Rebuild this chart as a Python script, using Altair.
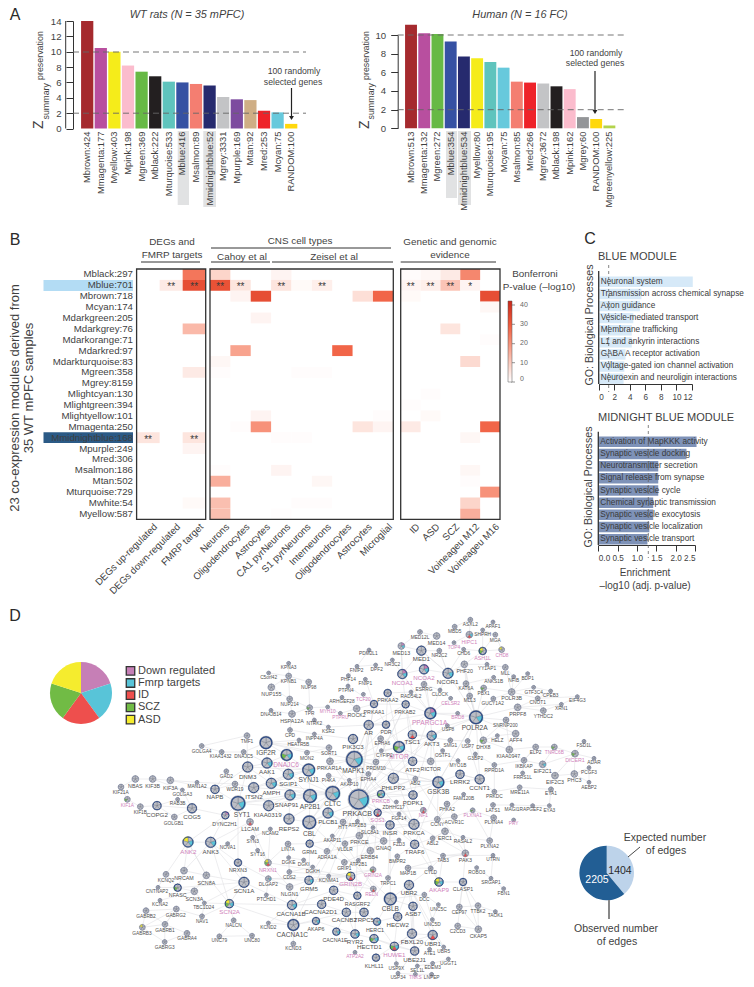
import math
import altair as alt

W, H = 738, 971
FONT = "Liberation Sans"
INK = "#3f3f3f"

# ---------- panel A ----------
RAT_LABELS = ["Mbrown:424","Mmagenta:177","Myellow:403","Mpink:198","Mgreen:369","Mblack:222","Mturquoise:533","Mblue:416","Msalmon:89","Mmidnightblue:52","Mgrey:3331","Mpurple:169","Mtan:92","Mred:253","Mcyan:75","RANDOM:100"]
RAT_VALUES = [14,10.5,10,8.2,7.4,6.8,6.1,6.0,5.8,5.6,4.1,3.8,3.7,2.3,2.1,0.6]
RAT_COLORS = ["#a52a2e","#b84f9f","#f5ec1a","#fbbccd","#67b945","#231f20","#5fc4bd","#3651a3","#f47e71","#262a6e","#c3c4c6","#7d4b9f","#cfae85","#ee2329","#67c9dc","#ffd80c"]
HUM_LABELS = ["Mbrown:513","Mmagenta:132","Mgreen:272","Mblue:354","Mmidnightblue:534","Myellow:80","Mturquoise:195","Mcyan:75","Msalmon:85","Mred:266","Mgrey:3672","Mblack:198","Mpink:162","Mgrey:60","RANDOM:100","Mgreenyellow:225"]
HUM_VALUES = [11.1,10.2,10.1,9.3,7.7,7.5,7.1,6.5,5.0,4.9,4.8,4.5,4.2,1.2,1.0,0.3]
HUM_COLORS = ["#a52a2e","#b84f9f","#67b945","#3651a3","#262a6e","#f5ec1a","#5fc4bd","#67c9dc","#f47e71","#ee2329","#c3c4c6","#231f20","#fbbccd","#939598","#ffd80c","#b3d34c"]

# ---------- panel B ----------
ROWS = ["Mblack:297","Mblue:701","Mbrown:718","Mcyan:174","Mdarkgreen:205","Mdarkgrey:76","Mdarkorange:71","Mdarkred:97","Mdarkturquoise:83","Mgreen:358","Mgrey:8159","Mlightcyan:130","Mlightgreen:394","Mlightyellow:101","Mmagenta:250","Mmidnightblue:168","Mpurple:249","Mred:306","Msalmon:186","Mtan:502","Mturquoise:729","Mwhite:54","Myellow:587"]
COLS1 = ["DEGs up-regulated","DEGs down-regulated","FMRP target"]
COLS2 = ["Neurons","Oligodendrocytes","Astrocytes","CA1 pyrNeurons","S1 pyrNeurons","Interneurons","Oligodendrocytes ","Astrocytes ","Microglial"]
COLS3 = ["ID","ASD","SCZ","Voineageu M12","Voineageu M16"]
# (row index, column index, -log10 P, stars)
CELLS1 = [(0,2,25,""),(1,1,4,"**"),(1,2,33,"**"),(5,2,13,""),(9,2,4,""),(15,0,5,"**"),(15,2,5,"**"),(16,2,2,""),(21,2,1,"")]
CELLS2 = [(0,0,8,""),(0,3,2,""),(1,0,32,"**"),(1,1,5,"**"),(1,3,5,"**"),(1,4,1,""),(1,5,3,"**"),(2,1,2,""),(2,2,33,""),(2,7,6,""),(2,8,28,""),(4,2,2,""),(7,1,17,""),(7,6,28,""),(8,0,1.5,""),(9,0,0.5,""),(9,4,0.5,""),(9,5,0.5,""),(13,2,2,""),(13,8,0.5,""),(14,1,0.5,""),(14,2,20,""),(14,7,5,""),(14,8,2,""),(15,3,0.5,""),(15,4,0.5,""),(18,0,0.5,""),(18,3,2,""),(19,0,15,""),(19,5,1.5,""),(21,0,12,""),(21,4,0.5,""),(21,5,0.5,""),(22,0,12,""),(22,3,0.3,"")]
CELLS3 = [(0,0,0.5,""),(0,1,1.5,""),(0,2,4,""),(0,3,22,""),(1,0,2,"**"),(1,1,3,"**"),(1,2,11,"**"),(1,3,2,"*"),(2,0,1,""),(2,4,33,""),(3,4,1.5,""),(5,2,5,""),(6,4,0.5,""),(8,3,7,""),(11,1,0.5,""),(12,0,0.5,""),(13,1,1,""),(14,0,4,""),(14,4,28,""),(15,3,1.5,""),(18,3,1.5,""),(19,3,0.5,""),(20,4,20,""),(21,3,8,""),(22,3,15,"")]
HEAT_STOPS = [0,10,20,30,42]
HEAT_TICKS = [0,10,20,30,40]
HEAT_COLORS = ["#ffffff","#fbcabd","#f7927a","#ef5a3c","#c9281a"]

# ---------- panel C ----------
BLUE_TERMS = ["Neuronal system","Transmission across chemical synapse","Axon guidance","Vesicle-mediated transport","Membrane trafficking","L1 and ankyrin interactions","GABA A receptor activation","Voltage-gated ion channel activation","Neuroexin and neuroligin interactions"]
BLUE_VALUES = [12.1,5.5,5.3,4.45,4.25,4.25,3.45,3.3,3.2]
MID_TERMS = ["Activation of MapKKK activity","Synaptic vesicle docking","Neurotransmitter secretion","Signal release from synapse","Synaptic vesicle cycle","Chemical synaptic transmission","Synaptic vesicle exocytosis","Synaptic vesicle localization","Synaptic vesicle transport"]
MID_VALUES = [2.54,2.28,1.55,1.55,1.55,1.42,1.42,1.32,1.27]

# ---------- panel D ----------
LIST_NAMES = ["Down regulated","Fmrp targets","ID","SCZ","ASD"]
LIST_COLORS = ["#c67fb6","#58c4d8","#ee4f4d","#71bb45","#f5ec2e"]
LIST_SHARE = [1,1,1,1,1]
EDGE_NAMES = ["Expected number of edges","Observed number of edges"]
EDGE_COUNTS = [1404,2205]
EDGE_COLORS = ["#bdd3ea","#225e94"]

# genes: name, x, y, radius, lists (P F R G Y; * = pink label), label x, label y
# in four quadrants (units are thirds of a pixel)
GENES_NW = [
("KPNA3",866,190,2,"",866,203),("C5orf42",806,219,2,"",806,233),("KPNB1",866,228,3,"",866,246),("NUP98",926,246,3,"",926,264),
("PDM2L1",1107,150,2,"",1105,163),("FNIP2",1071,199,2,"",1070,213),("DPF2",1127,195,2,"",1130,209),("PHF14",1045,227,2,"",1045,241),("FNIP1",1096,238,2,"",1096,252),
("PTPN4",1044,258,2,"",1038,273),("TCF20",1090,283,2,"*",1090,299),("NUP155",814,262,3.5,"",814,282),("NUP214",869,297,3,"",869,316),("TPR",929,323,3,"G",929,342),
("ARHGEF28",1026,292,2,"",1026,306),("MYH10",983,321,2,"*",983,337),("PTPRU",1021,340,2,"*",1021,354),("ROCK2",1070,326,3.5,"",1070,345),("PRKAA1",1122,312,4,"",1122,335),
("DNAJB14",813,331,2,"",813,345),("HSPA12A",876,342,3.5,"",876,362),("NTRK2",943,360,2,"",943,373),("KSR2",985,381,2,"",985,396),("AR",1106,375,5,"",1106,398),
("CPD",870,390,2.5,"",870,408),("TMF1",741,407,3,"",741,425),("INPP4A",943,402,2,"",943,417),("HEATR5B",897,420,2,"",895,434),("GOLGA4",605,438,2.5,"",605,455),
("KIAA1432",665,456,2.5,"",662,472),("DNAJC5",731,456,2.5,"",731,472),("IGF2R",798,428,6.5,"",798,458),("DNAJC6",860,465,6,"FG*",858,494),("MON2",921,458,2.5,"",921,476),
("SORT1",987,443,3,"",987,462),("PIK3C3",1059,417,5,"",1059,441),("MAPK1",1063,478,8.5,"F",1060,513),("AAK1",801,489,5.5,"F",801,516),("DNM3",743,501,5.5,"",743,531),
("GAD2",679,514,2.5,"",679,531),("SGIP1",865,523,5.5,"F",865,551),("SYNJ1",926,510,6.5,"F",926,540),("PRKAR1A",990,484,3.5,"",988,504),("PI4KA",986,527,2.5,"",986,543),
("AKAP10",1048,541,2,"",1048,555),("PRDM10",1128,486,3,"",1128,508),("EPHA4",1105,522,2.5,"",1105,540),("NBAS",406,537,3.5,"",406,558),("KIF3B",458,537,3.5,"",458,558),
("KIF3A",511,541,3.5,"",511,563),("MAN1A2",591,547,2,"",591,561),("GOLGA3",547,570,2,"",547,584),("WDR19",705,552,3,"",705,570),("NAPB",645,568,4.5,"",645,592),
("ITSN2",761,563,5.5,"",762,591),("AMPH",814,550,5.5,"F",814,578),("KIF21A",363,561,3,"",362,580),
]
GENES_SW = [
("KIF1A",382,28,3,"G*",382,47),("KIF1B",421,50,3,"",421,70),("COPG2",471,47,4.5,"",471,74),("RAB3B",533,28,2,"",533,42),("COG5",576,55,5,"",576,81),
("GOLGB1",523,81,3,"",521,101),("SYT1",714,40,7.5,"F",726,75),("DYNC2H1",676,76,4,"P",674,101),("L1CAM",750,96,3.5,"R",750,117),("KIAA0319",806,47,5.5,"",803,76),
("SNAP91",870,15,5.5,"F",860,44),("AP2B1",930,18,7,"F",930,50),("CLTC",998,10,7.5,"F",998,42),("PRKACB",1076,28,10.5,"F",1072,72),("PLCB1",984,69,5.5,"F",984,97),
("CBL",928,97,7,"",928,133),("REPS2",867,87,5.5,"",867,116),("NCAM2",811,117,2,"",811,132),("SYN3",758,142,2,"",758,157),("HTT",1029,96,3,"",1029,113),
("ATP2B3",1072,94,2,"",1072,108),("SLC8A1",1119,113,2,"",1110,128),("AKAP11",997,138,2,"",997,154),("PRKCE",1078,137,3.5,"",1078,156),("LIN7A",864,162,3,"",864,181),
("GRM1",929,161,4,"",929,185),("VLDLR",1035,161,3,"",1035,181),("ERBB4",1111,182,3.5,"",1108,202),("ADRA1A",981,184,3,"",981,203),("SYT16",773,181,2,"",773,196),
("NOVA1",683,161,2,"",683,175),("ANK2",564,156,5.5,"FY*",565,185),("ANK3",632,157,5.5,"F",632,186),("NRXN3",714,218,4,"",714,241),("NRXN1",804,218,3.5,"GYR*",804,241),
("DGKE",866,203,2,"",866,219),("DGKI",911,210,2,"",911,226),("DGKH",938,231,2,"",938,247),("GRIP1",1033,217,3,"",1033,237),("ATP2B1",1075,211,2,"",1075,226),
("GRIN2A",1119,239,3,"RG*",1119,258),("KCNQ2",498,253,3,"",498,272),("NRCAM",552,242,3.5,"",552,264),("SCN8A",619,256,3.5,"",619,278),("CNTNAP2",474,292,2,"",471,307),
("NFASC",533,293,4,"G",533,316),("SCN3A",583,304,3.5,"",583,326),("SCN1A",732,277,5.5,"",732,303),("DLGAP2",805,266,3,"F",805,286),("CDS2",868,246,2.5,"",868,264),
("KCNMA1",986,258,2,"",986,273),("GRIN2B",1052,259,4.5,"RY*",1052,283),("RELN",1120,297,3,"R*",1115,315),("GRM5",927,271,4.5,"F",927,297),("NLGN1",869,291,3.5,"",869,311),
("PDE4D",1001,301,4.5,"",1001,326),("RASGRF2",1072,317,4,"",1072,341),("PTCHD1",799,315,2,"",799,330),("KCNA2",480,331,2,"",480,346),("TBC1D24",613,339,2,"",611,354),
("SCN2A",688,341,4.5,"FGY*",689,366),("GABRB2",438,362,3,"",438,381),("GABRG2",529,357,3,"",527,378),("CACNA1B",876,345,5,"F",873,372),("CACNA2D1",965,343,4.5,"",962,367),
("CACNB2",1039,367,4.5,"",1033,391),("TRPC5",1092,367,4.5,"",1092,391),("NAV1",606,379,2.5,"",606,396),("NALCN",701,391,2.5,"",701,408),("AKAP6",948,393,4,"F",948,416),
("GABRB3",427,412,3,"Y",426,432),("GABRB1",495,403,3,"",495,422),("CACNA1C",880,405,6,"",877,435),("KCND2",805,399,2,"",805,414),("CACNA1E",1009,425,4,"F",1005,449),
("RYR2",1065,432,4.5,"F",1065,456),("GABRA4",561,430,3,"",561,448),("HECTD1",1122,446,4.5,"GF",1108,470),("UNC79",658,439,2.5,"",658,454),("UNC80",756,437,2.5,"",756,453),
("KCND3",880,461,2.5,"",880,477),("GABRG3",494,456,2.5,"",494,474),("ATP2A2",1065,487,2,"*",1065,501),("KLHL11",1128,503,4,"",1122,527),("HERC1",1131,395,4,"F",1125,420),
]
GENES_NE = [
("ASXL2",280,59,2.5,"",280,74),("MBD5",233,80,2.5,"",233,96),("APAF1",348,66,2,"",348,80),("SHPRH",317,90,2,"",317,104),("HIPC1",277,104,3.5,"RF*",277,125),
("MGA",355,104,2.5,"",355,122),("MED12L",129,96,2.5,"",129,114),("MED14",179,108,3.5,"",179,130),("MED13",73,138,3.5,"PF",73,160),("MED1",133,152,5,"",133,178),
("TOP4",231,128,2,"*",231,143),("CHD6",260,148,2,"",260,163),("NR2C2",187,152,2.5,"",187,169),("ASH1L",317,153,4,"GY*",317,175),("CHD8",374,149,3,"Y*",375,168),
("NR3C2",46,180,2,"",46,194),("PHF20",262,193,3.5,"",263,213),("YY1AP1",330,193,2,"",330,208),("MLL",385,202,3,"",385,221),("NCOR1",213,220,5.5,"F",212,246),
("NCOA2",141,208,5,"PF*",141,233),("NCOA1",76,222,5,"PF*",76,248),("NFIB",410,230,2,"",410,244),("BDP1",452,221,2,"",452,237),("ANKS1B",350,232,2,"",350,247),
("KAT6A",267,251,3,"",267,268),("ESRRG",141,253,3,"",141,269),("CLOCK",189,270,2,"",189,286),("PBX1",320,264,3,"G",320,282),("GTF3C4",470,262,2,"",470,278),
("CPEB3",521,273,2,"",521,288),("POLR3B",404,276,3.5,"",404,295),("RAD54L2",102,276,2,"",102,292),("PRKAA2",32,279,4,"",32,300),("MLL3",278,288,3,"",278,304),
("CELSR2",221,295,2,"*",221,311),("GUCY1A2",349,296,2.5,"",347,312),("CNOT1",482,295,2.5,"",482,310),("EIF4G3",601,290,2,"",601,304),("XRN1",553,313,2,"",553,328),
("PRKAB2",86,313,4,"",84,336),("PPARGC1A",160,340,6,"PF*",158,368),("POLR2A",297,352,7,"F",293,385),("PRPF8",422,322,3.5,"",422,341),("YTHDC2",499,332,3,"",499,350),
("BRD8",242,340,2,"*",242,355),("SNRNP200",387,360,3,"",385,378),("USP8",211,377,2,"",213,391),("PDR",27,374,4,"",27,396),("TSC1",106,404,4.5,"R",106,426),
("AKT3",164,407,5,"F",164,433),("AFF4",416,401,3.5,"",416,421),("HELZ",361,407,2,"",361,422),("SMG1",220,421,2.5,"",220,437),("USP7",272,423,2.5,"",272,440),
("DHX8",319,421,3.5,"G",319,440),("FSD1L",621,424,2,"",621,439),("TNRC6B",532,441,3,"G*",532,459),("ELP2",476,441,3,"",476,459),("DICER1",594,461,3.5,"G*",594,481),
("ADAR",651,475,2,"",651,489),("KIAA0947",397,449,3.5,"",394,468),("MTOR",66,441,6,"GF*",66,472),("EPHA6",11,416,3,"",16,433),("CYFIP2",13,452,2,"",22,467),
("OSTF1",197,452,2,"",197,467),("G3BP2",295,462,2,"",295,477),("MYO1B",243,482,2,"",243,497),("RICTOR",161,484,3.5,"",161,506),("ATF2",107,484,4.5,"",107,509),
("IKBKAP",441,481,3,"",441,500),("EIF2C1",497,493,3.5,"F",497,513),("RPRD1A",352,495,2.5,"",352,512),("FRRS1L",437,519,2,"",437,534),("PCGF3",636,503,2,"",636,520),
("PHC3",592,522,3.5,"",592,540),("EIF2C3",534,527,3.5,"",534,546),("ABI2",115,536,2.5,"",115,551),("LRRK2",249,523,4.5,"",249,546),("PHLPP2",49,535,5.5,"",49,563),
("GSK3B",184,547,6,"F",184,577),("CCNT1",308,538,5,"",308,564),("AEBP2",636,547,2,"",636,563),("MRE11A",428,562,2.5,"",428,578),("EYA1",522,568,2.5,"",522,583),
("FAM120B",260,583,2,"",260,597),("PRKDC",352,575,2.5,"",352,592),
]
GENES_SE = [
("PDPK1",108,15,4.5,"",108,39),("PRKCB",12,12,4,"GF*",12,33),("ZDHHC17",58,36,2,"",50,53),("PHKA2",210,42,3,"",210,60),("LATS1",348,45,2.5,"",348,62),
("MAGI1",405,45,2,"",405,61),("RAPGEF2",467,47,2,"",461,61),("EYA3",517,47,2,"",517,62),("NF1",139,61,3,"PR*",139,77),("PLXNA1",287,61,2.5,"G*",287,78),
("SOS1",2,68,4,"PR*",2,90),("FGF14",66,72,2,"",66,87),("ACVR1C",232,80,3,"",232,99),("CCNY",181,88,3,"",181,106),("PLXNA4",350,83,3,"",350,100),
("PRY",410,90,2,"*",410,103),("INSR",39,105,4.5,"",39,130),("PRKCA",111,103,5.5,"",111,130),("ERC1",204,124,3.5,"",204,145),("ABL2",167,145,2.5,"",167,161),
("RASAL2",258,142,2,"",258,156),("FZD3",66,150,2,"",66,164),("GNAQ",20,153,3.5,"",20,175),("PLXNA2",338,152,3,"",338,170),("TRAF6",113,163,4.5,"",113,187),
("TAB3",198,197,2.5,"",198,212),("PAK3",265,190,3.5,"R",265,210),("UTRN",348,196,2,"",348,211),("BMPR2",61,199,2.5,"",61,215),("ROBO3",299,233,2,"",299,248),
("CYLD",161,235,2.5,"",161,250),("MAP1B",93,234,3,"",93,252),("TRPC1",33,264,2.5,"",33,281),("SRGAP1",342,265,2,"",342,280),("AKAP9",186,276,4.5,"FGY*",186,299),
("CLASP1",258,276,4,"",258,296),("UBR2",96,285,5,"",96,310),("FBN1",380,296,2,"",380,311),("DCC",142,314,2.5,"",142,330),("CBLB",40,327,6.5,"",40,357),
("UNC5C",184,344,2,"",184,361),("ASB7",108,349,4.5,"",108,373),("CEP97",247,351,3,"",247,370),("TTBK2",303,347,3,"",303,366),("TAOK1",355,365,2,"",355,379),
("HECW2",62,380,4.5,"",62,405),("UNC5D",166,389,2,"",166,405),("C2CD3",242,408,3,"",242,427),("CKAP5",304,418,3.5,"",304,438),("FBXL20",105,431,5,"",105,455),
("UBR1",167,435,5,"R",167,461),("HUWE1",52,469,4.5,"RGF*",52,495),("UBE2J1",113,483,4.5,"",113,509),("ATE1",158,478,2,"",158,492),("UBR5",200,471,2,"",200,486),
("UGGT1",214,507,2,"",214,522),("EDEM3",167,520,2,"",167,535),("SEL1L",121,528,2,"",121,544),("USP9X",58,521,2,"",58,537),("USP34",63,550,2,"",63,564),
("TNKS",115,553,2,"*",115,565),("LNPEP",164,553,2,"",164,565),
]
# network edges, written as gene paths
EDGE_PATHS = """
C5orf42 KPNB1 KPNA3;KPNB1 NUP98 TPR NUP214 KPNB1;KPNB1 NUP155 NUP214 HSPA12A TPR;DNAJB14 HSPA12A CPD;TPR NTRK2 KSR2 AR;TPR MYH10 PTPRU ROCK2 PRKAA1;
PDM2L1 FNIP2 PHF14 PTPN4 PRKAA1;FNIP1 PRKAA1;FNIP2 DPF2;ARHGEF28 ROCK2;TCF20 PRKAA1;CPD INPP4A PIK3C3;HEATR5B IGF2R MON2 SORT1 IGF2R;TMF1 GOLGA4 KIAA1432 DNAJC5 IGF2R;
TMF1 DNM3;DNAJC5 AAK1 IGF2R DNAJC6 AAK1 SGIP1 DNAJC6 SYNJ1 AAK1 DNM3 ITSN2 AMPH AAK1;GAD2 NAPB DNM3 AMPH SYNJ1 DNM3 SYT1 AP2B1 AMPH SGIP1 AP2B1 CLTC SNAP91 AP2B1 SYNJ1 CLTC AMPH;
SGIP1 CLTC ITSN2 SGIP1 SYNJ1 MAPK1;NBAS KIF3B KIF3A MAN1A2 WDR19 NAPB KIF3A;KIF21A KIF1A KIF1B COPG2 RAB3B COG5 COPG2;NBAS KIF21A;KIF3B GOLGA3 COG5 GOLGB1 COPG2;WDR19 ITSN2 KIAA0319;NAPB SYT1 SNAP91;
SYT1 DYNC2H1 COG5;SYT1 L1CAM ANK3 ANK2 DYNC2H1 ANK3 NRXN3 SYT1 KIAA0319 REPS2 CBL CLTC REPS2 SNAP91 KIAA0319 AP2B1 CBL PLCB1 CLTC;L1CAM NRXN1 NCAM2 SYN3 SYT16 NRXN1 LIN7A GRM1 PLCB1;L1CAM NOVA1;
ANK2 SCN8A NRCAM ANK3 SCN1A SCN8A ANK2 NRCAM NFASC KCNQ2 ANK2;ANK3 SCN2A SCN1A NFASC SCN3A SCN8A SCN2A TBC1D24 SCN3A;KCNQ2 CNTNAP2 NFASC;KCNA2 SCN3A;SCN1A TBC1D24 NAV1 SCN2A NALCN UNC79 UNC80 NALCN;SCN1A NRXN3 DLGAP2 GRIN2B;
SCN1A CACNA1B SCN2A CACNA1C CACNA1B CACNA2D1 CACNB2 CACNA1C AKAP6 RYR2 CACNA1E CACNB2 RYR2 HECTD1;KCND2 CACNA1C KCND3;KCND2 CACNA1B NLGN1 GRM5 GRM1 ADRA1A GRIP1 GRIN2B GRM5 DLGAP2 NLGN1 NRXN1 GRIN2B CDS2 DGKH DGKI DGKE CDS2;
GABRB2 GABRG2 GABRB1 GABRB3 GABRB2 GABRB1 GABRA4 GABRG3 GABRB1 GABRG2 GABRB3 GABRG3;GABRG2 NAV1;PDE4D CACNA2D1 CACNA1B PDE4D RASGRF2 GRIN2B PDE4D TRPC5 RASGRF2 GRIN2A;CACNA1C PRKACB;CACNA1B PRKACB;RYR2 PRKACB;CACNB2 TRPC5 HERC1;
PTCHD1 DLGAP2;GRIN2A GRIN2B RELN GRM5;KCNMA1 PRKACB;KCNMA1 GRIN2A;VLDLR RELN;VLDLR PRKCE ERBB4 GRIP1 ATP2B1 ERBB4 GNAQ;AKAP11 PRKACB HTT PLCB1;ATP2B3 PRKACB SLC8A1 ATP2B1;PRKCE PRKACB PRKCA PRKCE;GRM1 PRKCE;LIN7A CDS2;ADRA1A GNAQ PLCB1;
PRKACB MAPK1 PRKCA INSR PRKACB PHLPP2 AKT3 PRKACB PDPK1 AKT3 MTOR TSC1 AKT3 GSK3B PDPK1 PRKCB PRKACB SOS1 INSR PDPK1 MTOR PRKAA1 PRKAB2 PRKAA2 MTOR RICTOR AKT3;PRKACB GSK3B MAPK1 ATF2 PRKACB PRKAB2 PRKACB PRKAA1 PRKACB AR MAPK1 PIK3C3 PRKACB;
PRKACB ERBB4;PRKACB GNAQ;PRKACB TRAF6 MAPK1;PRKACB ABI2;PRKACB TSC1;PRKACB MTOR MAPK1 AR PPARGC1A PRKAB2 AR PDR;MAPK1 IGF2R;MAPK1 PRKAR1A PRKACB;MAPK1 CBL;MAPK1 PHLPP2;MAPK1 EPHA4;MAPK1 PRKCA;MAPK1 SOS1 NF1 PRKCA PAK3 MAP1B;MAPK1 GSK3B;MAPK1 PRKAB2;MAPK1 PPARGC1A;
EPHA4 AKAP10 PI4KA;PRDM10 AR;EPHA6 PRKCA;EPHA6 EPHA4;CYFIP2 MTOR;CLTC EPHA4;SORT1 PRKAR1A AKAP10;PHLPP2 GSK3B PHLPP2 PDPK1;ABI2 CBL;ABI2 PAK3;
CBL INSR CBLB UBR2 UBR1 HUWE1 UBE2J1 UBR1 FBXL20 HUWE1 HECW2 CBLB ASB7 FBXL20 HECW2 UBR2 ASB7 UBE2J1 FBXL20 UBR2;CBL CBLB HERC1 HECTD1 HUWE1 HERC1 HECW2;HECTD1 UBE2J1;KLHL11 FBXL20;ATE1 UBR1 UBR5 UBR2;UGGT1 EDEM3 SEL1L UBE2J1;USP9X HUWE1 USP34 UBE2J1;TNKS LNPEP;TNKS USP34;UNC5C DCC UNC5D UNC5C;CBLB DCC;TRAF6 CYLD MAP1B;TRAF6 TAB3 CYLD UBR2;TRAF6 ABL2;TRAF6 BMPR2 TRPC1 INSR;FZD3 GNAQ;
PRKCA FGF14;PRKCA CCNY;PRKCA ZDHHC17;TRPC1 TRPC5;TRAF6 GSK3B CCNY FAM120B;NF1 PDPK1;SOS1 GRIN2A;PHKA2 ACVR1C CCNY PHKA2;ERC1 ABL2 ERC1 RASAL2 PAK3;AKAP9 CLASP1 CEP97 TTBK2 CLASP1 C2CD3 CKAP5 TTBK2;CEP97 CKAP5 CLASP1;TTBK2 TAOK1;AKAP9 CYLD;AKAP9 PRKCA;AKAP9 TAB3;PAK3 CLASP1;PAK3 TAB3 UTRN SRGAP1 ROBO3;FBN1 SRGAP1;PLXNA1 PLXNA4 PLXNA2 PLXNA1 ACVR1C;PLXNA2 RASAL2;LATS1 MAGI1 RAPGEF2;EYA3 RAPGEF2;EYA1 EYA3;
GSK3B LRRK2 CCNT1 GSK3B RICTOR ATF2 PRKAB2;ATF2 MTOR;CCNT1 POLR2A GSK3B POLR2A AKT3;CCNT1 PRKDC RPRD1A CCNT1 LRRK2;G3BP2 USP7 POLR2A DHX8 HELZ;USP7 SMG1 TSC1;USP8 AKT3;MYO1B RICTOR;MYO1B OSTF1 RICTOR;
POLR2A NCOR1 MED1 NCOA1 MED13 MED1 MED14 MED12L MED13 NCOA1 NCOA2 MED1 NCOR1 NCOA2 PPARGC1A NCOA1 PRKAB2;PPARGC1A POLR2A MLL3 POLR2A KAT6A PHF20 MLL3;POLR2A PBX1;POLR2A PHF20 NCOR1 CLOCK ESRRG NCOA2;ESRRG PPARGC1A RAD54L2 PRKAA2 PDR AR;NR3C2 NCOA1;NR2C2 NCOR1 NR2C2 MED1;CELSR2 PPARGC1A BRD8 POLR2A USP8;CLOCK PPARGC1A;MBD5 ASXL2 HIPC1 MGA SHPRH APAF1;HIPC1 TOP4 CHD6 ASH1L CHD8 MGA ASH1L YY1AP1 PHF20 ASH1L SHPRH;CHD6 NCOR1;YY1AP1 MLL;MLL NFIB POLR3B PBX1;POLR2A GUCY1A2 POLR3B GTF3C4 CPEB3 CNOT1 POLR3B BDP1;ANKS1B KAT6A;MLL POLR3B;
POLR2A PRPF8 SNRNP200 POLR2A AFF4 HELZ;PRPF8 CNOT1 YTHDC2 XRN1 EIF4G3 CNOT1;XRN1 PRPF8 YTHDC2;AFF4 KIAA0947 ELP2 TNRC6B DICER1 FSD1L;TNRC6B EIF2C1 DICER1 EIF2C3 EIF2C1 IKBKAP ELP2 IKBKAP KIAA0947 SNRNP200;DICER1 ADAR PCGF3 PHC3 AEBP2 PCGF3;DICER1 PHC3 EIF2C3;FRRS1L IKBKAP;RPRD1A IKBKAP;MRE11A PRKDC;MRE11A EYA1;
DHX8 SNRNP200;DHX8 KIAA0947;USP7 CCNT1;G3BP2 RPRD1A;AKT3 OSTF1;ATF2 PDR;TSC1 PRKAB2;PPARGC1A AKT3;PPARGC1A ATF2;
"""

# ---------- scales & helpers ----------
def PX():
    return alt.Scale(domain=[0, 754], range=[-8, 746])
def PY():
    return alt.Scale(domain=[0, 987], range=[-8, 979])

def txt(rows, **kw):
    kw.setdefault("font", FONT)
    kw.setdefault("color", INK)
    kw.setdefault("baseline", "middle")
    return alt.Chart(alt.Data(values=[{"t": r[0], "x": r[1], "y": r[2]} for r in rows])).mark_text(**kw).encode(
        x=alt.X("x:Q", scale=PX(), axis=None), y=alt.Y("y:Q", scale=PY(), axis=None), text="t:N")

def lines(rows, **kw):
    kw.setdefault("color", "#333333")
    kw.setdefault("strokeWidth", 1)
    return alt.Chart(alt.Data(values=[{"x": r[0], "y": r[1], "x2": r[2], "y2": r[3]} for r in rows])).mark_rule(**kw).encode(
        x=alt.X("x:Q", scale=PX(), axis=None), y=alt.Y("y:Q", scale=PY(), axis=None), x2="x2:Q", y2="y2:Q")

def boxes(rows, **kw):
    return alt.Chart(alt.Data(values=[{"x": r[0], "y": r[1], "x2": r[2], "y2": r[3]} for r in rows])).mark_rect(**kw).encode(
        x=alt.X("x:Q", scale=PX(), axis=None), y=alt.Y("y:Q", scale=PY(), axis=None), x2="x2:Q", y2="y2:Q")

def left_off(px):
    return -(px - 8)
def bottom_off(py):
    return (py - 8) - H

def bars(labels, values, colors, band, yrange, ydomain, axis_x, ticks_vals, label_y):
    rows = [{"l": l, "v": v, "c": c} for l, v, c in zip(labels, values, colors)]
    return alt.Chart(alt.Data(values=rows)).mark_bar().encode(
        x=alt.X("l:N", sort=labels, title=None,
                scale=alt.Scale(domain=labels, range=[band[0]-8, band[1]-8], paddingInner=0.1, paddingOuter=0.05),
                axis=alt.Axis(orient="bottom", offset=bottom_off(label_y), domain=False, ticks=False, labelAngle=270,
                              labelAlign="right", labelBaseline="middle", labelFontSize=9.4, labelColor=INK, zindex=1,
                              labelPadding=0, labelOverlap=False, labelLimit=200)),
        y=alt.Y("v:Q", title=None, scale=alt.Scale(domain=ydomain, range=[yrange[0]-8, yrange[1]-8], nice=False),
                axis=alt.Axis(orient="left", offset=left_off(axis_x), values=ticks_vals, tickSize=7, tickColor="#333333",
                              domainColor="#333333", labelFontSize=9.6, labelColor=INK, labelPadding=5, grid=False, labelFlush=False, labelOverlap=False)),
        color=alt.Color("c:N", scale=None, legend=None))

def heat(cells, cols, x0, x1, legend=False, row_axis=False):
    rows = [{"r": ROWS[r], "c": cols[c], "v": v, "s": s} for r, c, v, s in cells]
    yscale = dict(domain=ROWS, range=[269-8, 519.3-8], paddingInner=0, paddingOuter=0)
    xscale = dict(domain=cols, range=[x0-8, x1-8], paddingInner=0, paddingOuter=0)
    yaxis = alt.Axis(orient="left", offset=left_off(132.5), domain=False, ticks=False, labelFontSize=9.7, labelColor=INK, zindex=1,
                     labelPadding=0, labelOverlap=False, labelLimit=200) if row_axis else None
    leg = alt.Legend(orient="none", legendX=500, legendY=301-8, title=None, gradientLength=81, gradientThickness=4, values=HEAT_TICKS,
                     labelFontSize=7, labelColor="#666666", gradientStrokeColor="#555555", gradientStrokeWidth=0.5,
                     labelOffset=8) if legend else None
    rect = alt.Chart(alt.Data(values=rows)).mark_rect().encode(
        x=alt.X("c:N", title=None, sort=cols, scale=alt.Scale(**xscale),
                axis=alt.Axis(orient="bottom", offset=bottom_off(519.3), domain=False, ticks=False, labelAngle=315, labelAlign="right",
                              labelBaseline="top", labelFontSize=9.7, labelColor=INK, labelPadding=2, labelOffset=4, labelOverlap=False, labelLimit=200, zindex=1)),
        y=alt.Y("r:N", title=None, sort=ROWS, scale=alt.Scale(**yscale), axis=yaxis),
        color=alt.Color("v:Q", scale=alt.Scale(domain=HEAT_STOPS, range=HEAT_COLORS, interpolate="rgb"), legend=leg))
    stars = alt.Chart(alt.Data(values=[d for d in rows if d["s"]])).mark_text(font=FONT, fontSize=10, color="#3a3a3a", dy=2).encode(
        x=alt.X("c:N", sort=cols, scale=alt.Scale(**xscale), axis=None),
        y=alt.Y("r:N", sort=ROWS, scale=alt.Scale(**yscale), axis=None),
        text="s:N")
    return [rect, stars]

def enrich(terms, values, color, dom, rng, axis_y, yr, vals, fmt):
    rows = [{"t": t, "v": v} for t, v in zip(terms, values)]
    xs = lambda: alt.Scale(domain=dom, range=[rng[0]-8, rng[1]-8], nice=False)
    ys = lambda: alt.Scale(domain=terms, range=[yr[0]-8, yr[1]-8], paddingInner=0.14, paddingOuter=0.05)
    b = alt.Chart(alt.Data(values=rows)).mark_bar(color=color).encode(
        x=alt.X("v:Q", title=None, scale=xs(),
                axis=alt.Axis(orient="bottom", offset=bottom_off(axis_y), values=vals, format=fmt, tickSize=6, tickColor="#333333", domainColor="#333333",
                              labelFontSize=8.2, labelColor=INK, labelPadding=3, grid=False, labelOverlap=False)),
        y=alt.Y("t:N", sort=terms, scale=ys(), axis=None))
    t = alt.Chart(alt.Data(values=rows)).mark_text(font=FONT, fontSize=8.25, align="left", color="#3a3a3a").encode(
        x=alt.value(rng[0] + 2 - 8), y=alt.Y("t:N", sort=terms, scale=ys(), axis=None), text="t:N")
    return [b, t]

# ---------- network tables ----------
NODE_GREY = "#bcbec5"
nodes = {}
for genes, ox, oy in [(GENES_NW, 0, 600), (GENES_SW, 0, 790), (GENES_NE, 377, 600), (GENES_SE, 377, 790)]:
    for name, x, y, r, fl, lx, ly in genes:
        nodes[name] = dict(name=name, x=ox + x/3, y=oy + y/3, r=r, fl=fl, lx=ox + lx/3, ly=oy + ly/3)

edge_rows = []
for path in EDGE_PATHS.replace("\n", "").split(";"):
    g = path.split()
    for a, b in zip(g, g[1:]):
        if a in nodes and b in nodes:
            edge_rows.append((nodes[a]["x"], nodes[a]["y"], nodes[b]["x"], nodes[b]["y"]))

sector_rows, ring_rows, label_rows = [], [], []
for n in nodes.values():
    for i in range(5):
        on = "PFRGY"[i] in n["fl"]
        sector_rows.append(dict(x=n["x"], y=n["y"], r=n["r"], a=i*2*math.pi/5, b=(i+1)*2*math.pi/5,
                                c=LIST_COLORS[i] if on else NODE_GREY))
    r = n["r"]
    ring_rows.append(dict(x=n["x"], y=n["y"], s=math.pi*r*r*1.03, c="#2f4b85" if r >= 4 else "#7b85a4",
                          w=1.3 if r >= 6 else (1.0 if r >= 4 else 0.5)))
    fs = 7.2 if r >= 9 else (6.6 if r >= 6 else (6.2 if r > 4 else (5.3 if r > 3 else 4.8)))
    label_rows.append(dict(t=n["name"], x=n["lx"], y=n["ly"], fs=fs, c="#cf82ba" if "*" in n["fl"] else "#4f4f4f"))

edges_layer = lines(edge_rows, color="#e0e1e4", strokeWidth=0.6)
sectors_layer = alt.Chart(alt.Data(values=sector_rows)).mark_arc(stroke="#666b7a", strokeWidth=0.35).encode(
    x=alt.X("x:Q", scale=PX(), axis=None), y=alt.Y("y:Q", scale=PY(), axis=None),
    theta=alt.Theta("a:Q", scale=None), theta2=alt.Theta2("b:Q"),
    radius=alt.Radius("r:Q", scale=None), color=alt.Color("c:N", scale=None, legend=None))
rings_layer = alt.Chart(alt.Data(values=ring_rows)).mark_point(filled=False, shape="circle", opacity=1).encode(
    x=alt.X("x:Q", scale=PX(), axis=None), y=alt.Y("y:Q", scale=PY(), axis=None),
    size=alt.Size("s:Q", scale=None, legend=None), stroke=alt.Stroke("c:N", scale=None, legend=None),
    strokeWidth=alt.StrokeWidth("w:Q", scale=None, legend=None))
labels_layer = alt.Chart(alt.Data(values=label_rows)).mark_text(font=FONT, baseline="middle").encode(
    x=alt.X("x:Q", scale=PX(), axis=None), y=alt.Y("y:Q", scale=PY(), axis=None), text="t:N",
    size=alt.Size("fs:Q", scale=None, legend=None), color=alt.Color("c:N", scale=None, legend=None))

def pie(names, vals, colors, cx, cy, radius):
    rows = [{"n": n, "v": v, "i": i} for i, (n, v) in enumerate(zip(names, vals))]
    return alt.Chart(alt.Data(values=rows)).mark_arc(outerRadius=radius).encode(
        x=alt.value(cx - 8), y=alt.value(cy - 8),
        theta=alt.Theta("v:Q", stack=True), order=alt.Order("i:Q"),
        color=alt.Color("n:N", sort=names, scale=alt.Scale(domain=names, range=colors), legend=None))

def list_key():
    sc = lambda: alt.Scale(type="point", domain=LIST_NAMES, range=[664.7-8, 725.7-8])
    rows = [{"n": n, "c": c} for n, c in zip(LIST_NAMES, LIST_COLORS)]
    sq = alt.Chart(alt.Data(values=rows)).mark_square(size=72, opacity=1, stroke="#333333", strokeWidth=1.3).encode(
        x=alt.value(130.5-8), y=alt.Y("n:N", sort=LIST_NAMES, scale=sc(), axis=None),
        fill=alt.Color("c:N", scale=None, legend=None))
    tx = alt.Chart(alt.Data(values=rows)).mark_text(font=FONT, fontSize=11, align="left", color=INK).encode(
        x=alt.value(138-8), y=alt.Y("n:N", sort=LIST_NAMES, scale=sc(), axis=None), text="n:N")
    return [sq, tx]

layers = []
# --- A
layers += [boxes([(177.7,131,189,205),(203.3,131,216,207),(446,131,457,198),(458,131,471,205)], color="#e1e2e3")]
layers += [bars(RAT_LABELS, RAT_VALUES, RAT_COLORS, (80.4, 298), (128.5, 21), [0,14], 73, list(range(0,15,2)), 131)]
layers += [bars(HUM_LABELS, HUM_VALUES, HUM_COLORS, (404.4, 616), (128.3, 35), [0,10], 397.7, list(range(0,11,2)), 131)]
layers += [lines([(65.7,21,65.7,128.5)], color="#333333"),
           lines([(73,52,306,52),(73,113.2,306,113.2),(397.7,35,624,35),(397.7,109.7,624,109.7)], color="#666666", strokeDash=[6,4], strokeWidth=0.9),
           lines([(291.5,88,291.5,116),(595,71,595,110)], color="#222222", strokeWidth=1.2)]
layers += [alt.Chart(alt.Data(values=[{"x":291.5,"y":118},{"x":595,"y":112}])).mark_point(shape="triangle-down", filled=True, color="#222222", size=24, opacity=1).encode(
    x=alt.X("x:Q", scale=PX(), axis=None), y=alt.Y("y:Q", scale=PY(), axis=None))]
layers += [txt([("WT rats (N = 35 mPFC)",187,14.5),("Human (N = 16 FC)",520,14.5)], fontSize=10.9, fontStyle="italic", align="center"),
           txt([("100 randomly",294,71),("selected genes",293,82),("100 randomly",596,53),("selected genes",595,63)], fontSize=8.7, align="center"),
           txt([("Z",39,129),("Z",365,129)], fontSize=14, angle=270, align="left"),
           txt([("summary",45.7,119.5),("summary",371,119.5)], fontSize=8.9, angle=270, align="left"),
           txt([("preservation",40,80),("preservation",365.5,80)], fontSize=8.9, angle=270, align="left")]
# --- B
layers += [boxes([(43.5,280,133,291)], color="#b3dcf4"), boxes([(43.5,432.2,133,443)], color="#2b5a86")]
layers += heat(CELLS1, COLS1, 136.6, 205.7, row_axis=True)
layers += heat(CELLS2, COLS2, 210, 393.3, legend=True)
layers += heat(CELLS3, COLS3, 400.7, 500)
layers += [boxes([(136.6,269,205.7,519.3),(210,269,393.3,519.3),(400.7,269,500,519.3)], fillOpacity=0, stroke="#333333", strokeWidth=1.3),
           lines([(141,262,200,262),(211,248,391,248),(211,262,270,262),(272,262,393,262),(400.7,262,496,262)], color="#333333", strokeWidth=1),
           lines([(511,305,515,305),(511,324.3,515,324.3),(511,343.7,515,343.7),(511,362.7,515,362.7),(511,382,515,382)], color="#666666", strokeWidth=0.7),
           txt([("DEGs and",172,242),("FMRP targets",172,255),("CNS cell types",300,241),("Cahoy et al",242,257),("Zeisel et al",334,257),
                ("Genetic and genomic",450,242),("evidence",450,255),("Bonferroni",535,274),("P-value (–log10)",539,287)], fontSize=9.9, align="center"),
           txt([("23 co-expression modules derived from",15,398),("35 WT mPFC samples",29,388)], fontSize=13, angle=270, align="center")]
# --- C
layers += enrich(BLUE_TERMS, BLUE_VALUES, "#d6e9f8", [0,12], (598.7,692), 384, (276,384.5), list(range(0,13,2)), "d")
layers += enrich(MID_TERMS, MID_VALUES, "#7e92b8", [0,2.5], (598.3,695), 545, (436,545), [0,0.5,1,1.5,2,2.5], ".1f")
layers += [lines([(598.7,271,598.7,384),(598.3,431.7,598.3,545)], color="#333333", strokeWidth=1.3),
           lines([(608.7,265,608.7,392),(648.3,425,648.3,558)], color="#666666", strokeDash=[3,3], strokeWidth=0.8),
           txt([("BLUE MODULE",598,256.5),("MIDNIGHT BLUE MODULE",598,418)], fontSize=11, align="left"),
           txt([("GO: Biological Processes",590,325),("GO: Biological Processes",589,487)], fontSize=10.7, angle=270, align="center"),
           txt([("Enrichment",645,573),("–log10 (adj. p-value)",645,586)], fontSize=10, align="center")]
# --- D
layers += [edges_layer, sectors_layer, rings_layer, labels_layer]
layers += [pie(LIST_NAMES, LIST_SHARE, LIST_COLORS, 81, 693, 31)]
layers += list_key()
layers += [pie(EDGE_NAMES, EDGE_COUNTS, EDGE_COLORS, 606.7, 873, 27.3),
           lines([(628,857,640,847)], color="#333333", strokeWidth=0.9),
           lines([(609,900,609,919)], color="#888888", strokeWidth=2),
           txt([("1404",620,871)], fontSize=10.5, align="center", color="#2a2a2a"),
           txt([("2205",597,880)], fontSize=10.5, align="center", color="#ffffff"),
           txt([("Expected number",665,838),("of edges",666,851),("Observed number",616,929),("of edges",617,942)], fontSize=10.5, align="center")]
# panel letters
layers += [txt([("A",15,15),("B",15,240),("C",590,239),("D",15,616)], fontSize=16, align="center", color="#2a2a2a")]

chart = alt.layer(*layers).resolve_scale(x="independent", y="independent", color="independent", theta="independent").properties(
    width=W, height=H, autosize=alt.AutoSizeParams(type="none"), padding=0, background="white"
).configure(font=FONT).configure_view(stroke=None)

chart.save("out.html", embed_options={"renderer": "svg", "actions": False})
